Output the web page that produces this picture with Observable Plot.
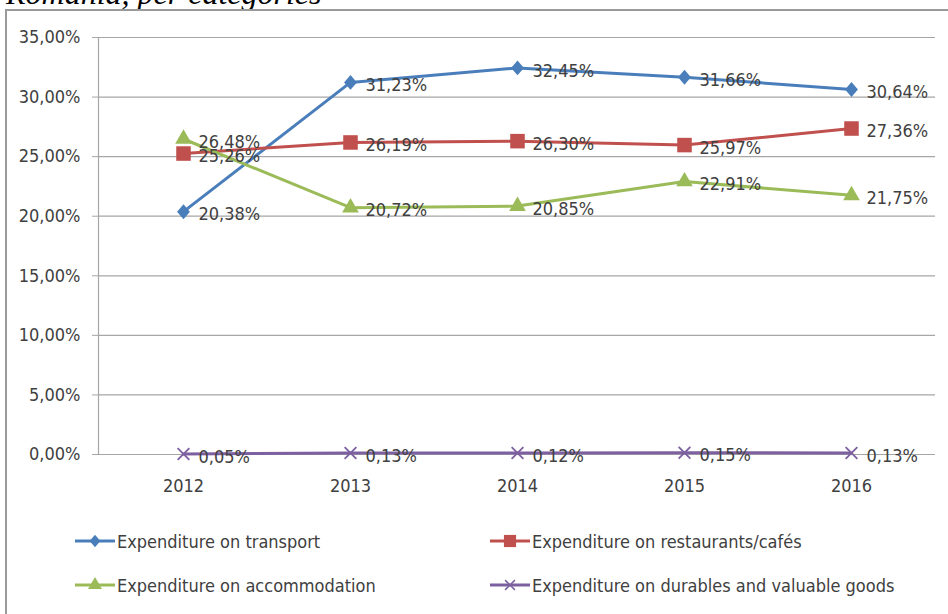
<!DOCTYPE html>
<html>
<head>
<meta charset="utf-8">
<script src="https://cdn.jsdelivr.net/npm/d3@7"></script>
<script src="https://cdn.jsdelivr.net/npm/@observablehq/plot@0.6"></script>
<style>
  html, body { margin: 0; padding: 0; background: #fff; }
  #wrap { position: relative; width: 948px; height: 614px; overflow: hidden; background: #fff; }
  #title { position: absolute; left: 6px; top: -23px; font-family: "Liberation Serif", "Times New Roman", serif; font-style: italic; font-size: 32px; line-height: 32px; color: #000; white-space: nowrap; }
  #border { position: absolute; left: 5px; top: 9px; width: 960px; height: 620px; border-left: 2px solid #9a9a9a; border-top: 2px solid #9a9a9a; box-sizing: border-box; }
  #chart { position: absolute; left: 0; top: 0; }
  .cf { font-family: "DejaVu Sans Condensed", "DejaVu Sans", sans-serif; font-stretch: condensed; }
  #legend { position: absolute; left: 0; top: 0; width: 948px; height: 614px; pointer-events: none; }
  .li { position: absolute; display: flex; align-items: center; font-size: 18px; color: #404040; white-space: nowrap; }
  .li svg { display: block; margin-right: 2px; }
</style>
</head>
<body>
<div id="wrap">
  <div id="title">Romania, per categories</div>
  <div id="border"></div>
  <div id="chart" class="cf"></div>
  <div id="legend" class="cf"></div>
</div>
<script>
const years = [2012, 2013, 2014, 2015, 2016];
const seriesNames = [
  "Expenditure on transport",
  "Expenditure on restaurants/cafés",
  "Expenditure on accommodation",
  "Expenditure on durables and valuable goods"
];
const transport = [20.38, 31.23, 32.45, 31.66, 30.64];
const restaurants = [25.26, 26.19, 26.30, 25.97, 27.36];
const accommodation = [26.48, 20.72, 20.85, 22.91, 21.75];
const durables = [0.05, 0.13, 0.12, 0.15, 0.13];
const yTicks = [0, 5, 10, 15, 20, 25, 30, 35];

const seriesValues = [transport, restaurants, accommodation, durables];
const colors = ["#4a7ebb", "#c0504d", "#9bbb59", "#7d60a0"];

// Excel-like diamond: a square rotated 45°, slightly taller than wide
const excelDiamond = {
  draw(ctx, size) {
    const r = Math.sqrt(size / 2);
    ctx.moveTo(0, -r * 1.1);
    ctx.lineTo(r * 0.95, 0);
    ctx.lineTo(0, r * 1.1);
    ctx.lineTo(-r * 0.95, 0);
    ctx.closePath();
  }
};
const symbolObjs = [excelDiamond, d3.symbolSquare, d3.symbolTriangle, d3.symbolTimes];
const radii = [5.4, 8.2, 6.2, 5.4];
const filledFlags = [true, true, true, false];

const fmt = v => v.toFixed(2).replace(".", ",") + "%";

const rows = [];
seriesNames.forEach((s, si) => {
  years.forEach((y, i) => rows.push({series: s, year: y, value: seriesValues[si][i]}));
});

const dotMarks = seriesNames.map((s, si) => {
  const filled = filledFlags[si];
  return Plot.dot(rows.filter(d => d.series === s), {
    x: "year", y: "value", symbol: symbolObjs[si], r: radii[si],
    fill: filled ? colors[si] : "none",
    stroke: filled ? "none" : colors[si],
    strokeWidth: filled ? 0 : 1.8
  });
});

const chart = Plot.plot({
  width: 948,
  height: 520,
  marginLeft: 98,
  marginRight: 13,
  marginTop: 37,
  marginBottom: 66,
  x: {type: "point", domain: years, padding: 0.5},
  y: {domain: [0, 35]},
  style: {fontFamily: '"DejaVu Sans Condensed", "DejaVu Sans", sans-serif', fontSize: "18px", color: "#404040", background: "transparent", overflow: "visible"},
  marks: [
    Plot.ruleY(yTicks, {stroke: "#a6a6a6", strokeWidth: 1.2}),
    Plot.frame({anchor: "left", stroke: "#a6a6a6", strokeWidth: 1.2}),
    Plot.axisY({ticks: yTicks, tickFormat: d => fmt(d), tickSize: 6, tickPadding: 12, stroke: "#a6a6a6", label: null, fontSize: 18}),
    Plot.axisX({tickSize: 0, tickPadding: 25, tickFormat: d => String(d), label: null, fontSize: 18}),
    Plot.lineY(rows, {x: "year", y: "value", z: "series", stroke: d => colors[seriesNames.indexOf(d.series)], strokeWidth: 3}),
    ...dotMarks,
    Plot.text(rows, {x: "year", y: "value", text: d => fmt(d.value), dx: 15, dy: 3, textAnchor: "start", fill: "#404040", fontSize: 18})
  ]
});
document.getElementById("chart").appendChild(chart);

// legend
const legend = document.getElementById("legend");
const legendPos = [[75, 541], [490, 541], [75, 585], [490, 585]];
seriesNames.forEach((s, si) => {
  const item = document.createElement("div");
  item.className = "li";
  item.style.left = legendPos[si][0] + "px";
  item.style.top = (legendPos[si][1] - 12) + "px";
  item.style.height = "24px";
  const svg = d3.create("svg").attr("width", 40).attr("height", 24);
  svg.append("line").attr("x1", 0).attr("x2", 40).attr("y1", 12).attr("y2", 12)
    .attr("stroke", colors[si]).attr("stroke-width", 3);
  const filled = filledFlags[si];
  svg.append("path").attr("transform", "translate(20,12)")
    .attr("d", d3.symbol(symbolObjs[si], Math.PI * radii[si] * radii[si] * 0.7)())
    .attr("fill", filled ? colors[si] : "none")
    .attr("stroke", filled ? "none" : colors[si])
    .attr("stroke-width", filled ? 0 : 1.5);
  item.appendChild(svg.node());
  const t = document.createElement("span");
  t.textContent = s;
  item.appendChild(t);
  legend.appendChild(item);
});
</script>
</body>
</html>
